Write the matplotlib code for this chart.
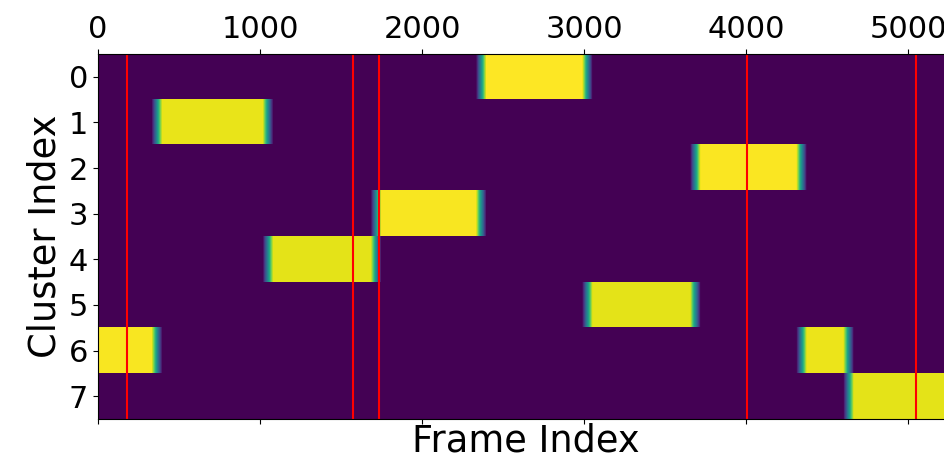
import matplotlib.pyplot as plt
import numpy as np

# cluster segments along the sequence: start frame, cluster id, peak probability
seg_starts = [0, 364, 1049, 1716, 2364, 3019, 3685, 4340, 4630]
seg_cluster = [6, 1, 4, 3, 0, 5, 2, 6, 7]
seg_peak = [0.99, 0.965, 0.96, 0.99, 1.0, 0.96, 0.995, 0.97, 0.96]
n_frames = 5280
n_clusters = 8

# detected change points
change_points = [177, 1572, 1736, 4004, 5049]

prob = np.zeros((n_clusters, n_frames))
ends = seg_starts[1:] + [n_frames]
for s, e, c, p in zip(seg_starts, ends, seg_cluster, seg_peak):
    prob[c, s:e] = p

# soften the transitions between clusters
win = 65
kernel = np.ones(win) / win
for i in range(n_clusters):
    padded = np.pad(prob[i], win, mode='edge')
    prob[i] = np.convolve(padded, kernel, mode='same')[win:-win]

fig = plt.figure(figsize=(9.44, 4.61), dpi=100)
px = 0.162 / 944  # axes width per frame in figure fraction
ax = fig.add_axes([98 / 944, 42 / 461, n_frames * px, 365 / 461])

ax.imshow(prob, aspect='auto', cmap='viridis', interpolation='nearest',
          vmin=0, vmax=1, extent=[0, n_frames, n_clusters - 0.5, -0.5])
for cp in change_points:
    ax.axvline(cp, color='red', linewidth=1.5)

ax.set_xlim(0, n_frames)
ax.set_xticks([0, 1000, 2000, 3000, 4000, 5000])
ax.set_yticks(range(n_clusters))
ax.tick_params(axis='x', top=True, labeltop=True, bottom=True, labelbottom=False)
ax.tick_params(labelsize=22)
ax.set_xlabel('Frame Index', fontsize=26.5, labelpad=-1)
ax.set_ylabel('Cluster Index', fontsize=26.5, labelpad=4)

fig.savefig('out.png', dpi=100)
